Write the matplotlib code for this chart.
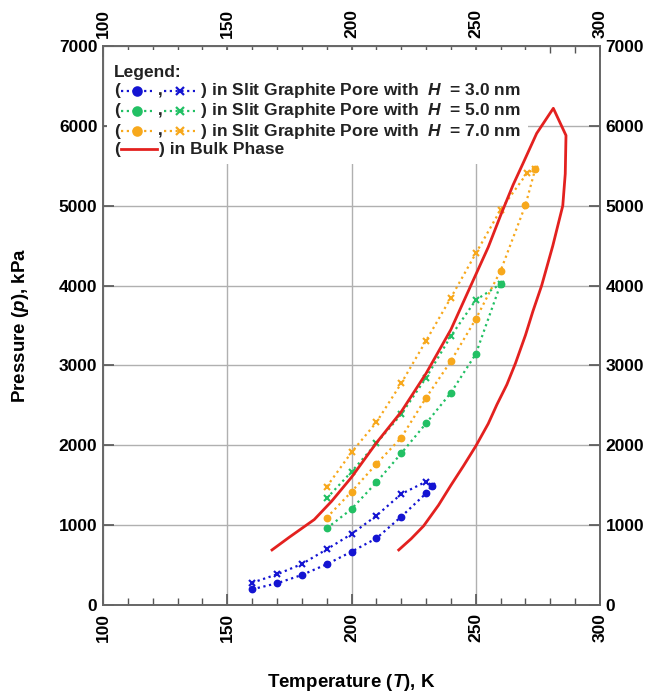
import matplotlib
matplotlib.use('Agg')
import matplotlib.pyplot as plt
from matplotlib.lines import Line2D
from matplotlib.ticker import MultipleLocator
from matplotlib.offsetbox import TextArea, DrawingArea, HPacker, VPacker, AnchoredOffsetbox

plt.rcParams['font.family'] = ['Liberation Sans', 'DejaVu Sans']
plt.rcParams['font.weight'] = 'bold'
plt.rcParams['mathtext.fontset'] = 'custom'
plt.rcParams['mathtext.it'] = 'Liberation Sans:italic:bold'
plt.rcParams['mathtext.rm'] = 'Liberation Sans:bold'
plt.rcParams['mathtext.bf'] = 'Liberation Sans:bold'

# ---------------- data ----------------
# H = 3.0 nm
T_h3_circ = [160, 170, 180, 190, 200, 210, 220, 230, 232.3]
P_h3_circ = [197, 272, 376, 510, 668, 835, 1106, 1399, 1490]
T_h3_x = [160, 170, 180, 190, 200, 210, 220, 230, 232.3]
P_h3_x = [279, 384, 513, 697, 889, 1118, 1390, 1545, 1490]
# H = 5.0 nm
T_h5_circ = [190, 200, 210, 220, 230, 240, 250, 260]
P_h5_circ = [960, 1202, 1536, 1899, 2275, 2659, 3143, 4020]
T_h5_x = [190, 200, 210, 220, 230, 240, 250, 260]
P_h5_x = [1336, 1669, 2025, 2388, 2846, 3368, 3819, 4020]
# H = 7.0 nm
T_h7_circ = [190, 200, 210, 220, 230, 240, 250, 260, 270, 273.9]
P_h7_circ = [1093, 1419, 1766, 2095, 2596, 3055, 3581, 4186, 5009, 5457]
T_h7_x = [190, 200, 210, 220, 230, 240, 250, 260, 270.8, 273.9]
P_h7_x = [1481, 1912, 2288, 2776, 3310, 3849, 4403, 4950, 5415, 5457]
# Bulk phase
T_bulk = [168, 175, 185, 192, 200, 210, 220, 230, 240, 248, 255, 260, 265, 269, 274.5, 281.2,
          286.3, 286, 285, 281, 276.5, 273, 270, 266, 262.5, 258.5, 255, 250, 245, 240, 235,
          229, 224, 219]
P_bulk = [690, 850, 1070, 1300, 1600, 2030, 2420, 2900, 3450, 4000, 4480, 4880, 5260, 5530,
          5906, 6220, 5880, 5400, 5000, 4500, 4000, 3680, 3380, 3030, 2760, 2510, 2270, 1990,
          1740, 1500, 1250, 990, 830, 690]

C_BLUE = '#1414d2'
C_GREEN = '#22c064'
C_ORANGE = '#f7a81c'
C_RED = '#e3211f'

x_ticks = [100, 150, 200, 250, 300]
y_ticks = [0, 1000, 2000, 3000, 4000, 5000, 6000, 7000]

fig = plt.figure(figsize=(6.54, 6.96), dpi=100)
ax = fig.add_axes([0.1575, 0.1307, 0.76, 0.8032])

dot = (0, (1, 1.6))
for (tc, pc, tx, px, c) in [(T_h3_circ, P_h3_circ, T_h3_x, P_h3_x, C_BLUE),
                            (T_h5_circ, P_h5_circ, T_h5_x, P_h5_x, C_GREEN),
                            (T_h7_circ, P_h7_circ, T_h7_x, P_h7_x, C_ORANGE)]:
    ax.plot(tc, pc, color=c, ls=dot, lw=1.6, marker='o', ms=4.6, zorder=3)
    ax.plot(tx, px, color=c, ls=dot, lw=1.6, marker='x', ms=5, mew=1.5, zorder=3)

ax.plot(T_bulk, P_bulk, color=C_RED, lw=2.0, zorder=3)

ax.set_xlim(100, 300)
ax.set_ylim(0, 7000)
ax.set_xticks(x_ticks)
ax.set_yticks(y_ticks)
ax.xaxis.set_minor_locator(MultipleLocator(10))
ax.grid(True, which='major', color='#b0b0b0', lw=1.0)
ax.set_axisbelow(True)

ax.tick_params(which='both', direction='in', top=True, right=True,
               labeltop=True, labelright=True, color='#555555')
ax.tick_params(which='major', length=8, width=1.2, labelsize=12.5)
ax.tick_params(which='minor', length=5, width=1.0)
ax.tick_params(axis='x', which='major', labelrotation=90, pad=6)
ax.tick_params(axis='y', which='major', pad=4)
for s in ax.spines.values():
    s.set_color('#666666')
    s.set_linewidth(1.4)

ax.set_xlabel(r'Temperature ($\mathit{T}$), K', fontsize=13.5, fontweight='bold', labelpad=21)
ax.set_ylabel(r'Pressure ($\mathit{p}$), kPa', fontsize=13.5, fontweight='bold', labelpad=20)

# ---------------- legend ----------------
FS = 12.5
tp = dict(fontsize=FS, fontweight='bold', color='#222222')


def sample(color, marker):
    da = DrawingArea(22, 8, 0, 0)
    da.add_artist(Line2D([0, 22], [4, 4], color=color, ls=dot, lw=1.6))
    da.add_artist(Line2D([11], [4], color=color, marker=marker, ms=6, mew=1.6, ls='none'))
    return da


rows = [DrawingArea(10, 5, 0, 0), TextArea('Legend:', textprops=tp)]
for c, h in [(C_BLUE, '3.0'), (C_GREEN, '5.0'), (C_ORANGE, '7.0')]:
    rows.append(HPacker(children=[TextArea('(', textprops=tp), sample(c, 'o'),
                                  TextArea(' ,', textprops=tp), sample(c, 'x'),
                                  TextArea(' ) in Slit Graphite Pore with  $\\mathit{H}$  = ' + h + ' nm',
                                           textprops=tp)],
                        align='center', pad=0, sep=1))
da_red = DrawingArea(26, 8, 0, 0)
da_red.add_artist(Line2D([0, 26], [4, 4], color=C_RED, lw=2.0))
rows.append(HPacker(children=[TextArea('(', textprops=tp), da_red,
                              TextArea(') in Bulk Phase', textprops=tp)],
                    align='center', pad=0, sep=1))
vp = VPacker(children=rows, align='left', pad=0, sep=0.8)
box = AnchoredOffsetbox(loc='upper left', child=vp, pad=0.5, borderpad=0.3, frameon=True)
box.patch.set_edgecolor('none')
box.patch.set_facecolor('white')
box.set_zorder(2.6)
ax.add_artist(box)

fig.savefig('out.png', dpi=100)
